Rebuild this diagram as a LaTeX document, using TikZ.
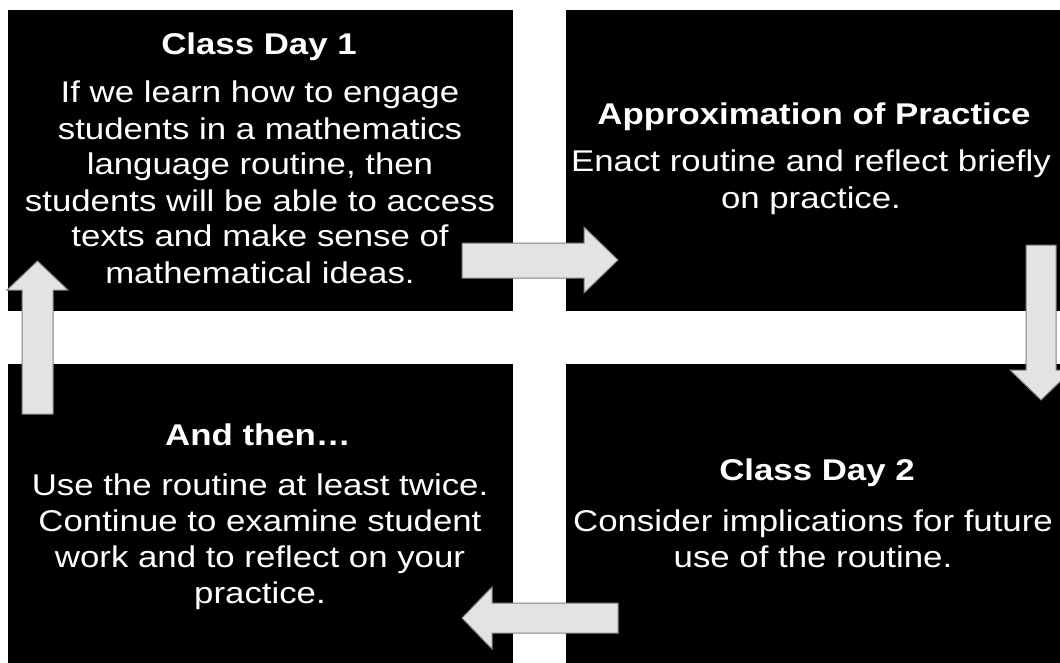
\documentclass[tikz,border=0pt]{standalone}
\usepackage{fontspec}
\setmainfont{Liberation Sans}[FakeStretch=1.16]

\definecolor{arrowgrey}{HTML}{E3E3E3}
\definecolor{arrowedge}{HTML}{808080}

\tikzstyle{panel}=[fill=black, minimum width=505pt, minimum height=301pt, inner sep=0pt]
\tikzstyle{boxtitle}=[text=white, font=\fontsize{30}{36}\selectfont\bfseries, anchor=base, inner sep=0pt]
\tikzstyle{boxtext}=[text=white, font=\fontsize{30}{36}\selectfont, align=center, anchor=base, inner sep=0pt]
\tikzstyle{blockarrow}=[fill=arrowgrey, draw=arrowedge, line width=1pt, line join=miter]

\begin{document}
\begin{tikzpicture}[x=1pt, y=1pt]
      \useasboundingbox (0,0) rectangle (1060,-663);
      \clip (0,0) rectangle (1060,-663);

      % the four panels
      \node[panel] (day1) at (260.5, -160.5) {};
      \node[panel] (approx) at (818.5, -160.5) {};
      \node[panel] (later) at (260.5, -514.5) {};
      \node[panel] (day2) at (818.5, -514.5) {};

      % texts (base = last line)
      \node[boxtitle] (day1title) at (259, -55) {Class Day 1};
      \node[boxtext] (day1text) at (260, -283) {If we learn how to engage\\students in a mathematics\\language routine, then\\students will be able to access\\texts and make sense of\\mathematical ideas.};

      \node[boxtitle] (approxtitle) at (814, -125) {Approximation of Practice};
      \node[boxtext] (approxtext) at (811, -208) {Enact routine and reflect briefly\\on practice.};

      \node[boxtitle] (day2title) at (817, -480) {Class Day 2};
      \node[boxtext] (day2text) at (813, -567) {Consider implications for future\\use of the routine.};

      \node[boxtitle] (latertitle) at (258, -445) {And then\dots};
      \node[boxtext] (latertext) at (260, -603) {Use the routine at least twice.\\Continue to examine student\\work and to reflect on your\\practice.};

      % block arrows
      \draw[blockarrow] (462,-243) -- (584,-243) -- (584,-227) -- (618,-260)
            -- (584,-293) -- (584,-278) -- (462,-278) -- cycle;
      \draw[blockarrow] (1026,-245) -- (1056,-245) -- (1056,-370) -- (1072,-370)
            -- (1041,-400) -- (1010,-370) -- (1026,-370) -- cycle;
      \draw[blockarrow] (618,-603) -- (492,-603) -- (492,-587) -- (462,-618)
            -- (492,-649) -- (492,-633) -- (618,-633) -- cycle;
      \draw[blockarrow] (22,-414) -- (22,-290) -- (7,-290) -- (37.5,-261)
            -- (68,-290) -- (53,-290) -- (53,-414) -- cycle;
    \end{tikzpicture}
\end{document}
